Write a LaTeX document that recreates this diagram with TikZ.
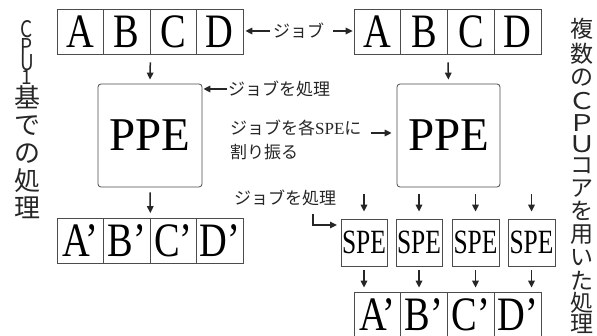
\documentclass[tikz,border=0pt]{standalone}
\usepackage{fontspec}
\usepackage{graphicx}
\setmainfont{Liberation Serif}
\newfontfamily\jp{Noto Sans CJK JP}
\usetikzlibrary{arrows.meta}
\newcommand\narrowtxt[2]{\scalebox{#1}[1]{#2}}
\newcommand\vcell[2]{\hbox to 28pt{\hss\vbox to #1{\vss\hbox{#2}\vss}\hss}}
\begin{document}
\begin{tikzpicture}[x=1pt,y=-1pt,
  box/.style={draw=black!70, line width=0.8pt, inner sep=0pt},
  cell/.style={box, minimum width=46.5pt, minimum height=45pt, font=\fontsize{48}{48}\selectfont},
  ppe/.style={box, rounded corners=3pt, minimum width=104pt, minimum height=103pt, font=\fontsize{47}{47}\selectfont},
  spe/.style={box, minimum width=46pt, minimum height=47pt, font=\fontsize{34}{34}\selectfont},
  arr/.style={-{Triangle[length=7pt,width=6.5pt]}, line width=1.5pt, black!85},
  lab/.style={font=\jp\fontsize{17}{17}\selectfont, inner sep=0pt, text=black!85},
  vtitle/.style={inner sep=0pt, text=black!85, anchor=north},
]
\useasboundingbox (0,0) rectangle (597,336);
\fill[white] (0,0) rectangle (597,336);

% left job cells
\node[cell] (la) at (80.25,31.5) {\narrowtxt{0.8}{A}};
\node[cell] (lb) at (126.75,31.5) {\narrowtxt{0.8}{B}};
\node[cell] (lc) at (173.25,31.5) {\narrowtxt{0.8}{C}};
\node[cell] (ld) at (219.75,31.5) {\narrowtxt{0.8}{D}};
% right job cells
\node[cell, minimum width=46.75pt] (ra) at (377.4,31.5) {\narrowtxt{0.8}{A}};
\node[cell, minimum width=46.75pt] (rb) at (424.1,31.5) {\narrowtxt{0.8}{B}};
\node[cell, minimum width=46.75pt] (rc) at (470.9,31.5) {\narrowtxt{0.8}{C}};
\node[cell, minimum width=46.75pt] (rd) at (517.6,31.5) {\narrowtxt{0.8}{D}};

% PPEs
\node[ppe] (ppeL) at (150,135.5) {PPE};
\node[ppe, minimum width=103pt] (ppeR) at (448.5,135.5) {PPE};

% left results
\node[cell] (la2) at (80.25,241) {\narrowtxt{0.8}{A’}};
\node[cell] (lb2) at (126.75,241) {\narrowtxt{0.8}{B’}};
\node[cell] (lc2) at (173.25,241) {\narrowtxt{0.8}{C’}};
\node[cell] (ld2) at (219.75,241) {\narrowtxt{0.8}{D’}};

% SPEs
\node[spe] (spe1) at (364,242.5) {\narrowtxt{0.75}{SPE}};
\node[spe] (spe2) at (419,242.5) {\narrowtxt{0.75}{SPE}};
\node[spe, minimum width=47pt] (spe3) at (475.5,242.5) {\narrowtxt{0.75}{SPE}};
\node[spe, minimum width=47pt] (spe4) at (531.5,242.5) {\narrowtxt{0.75}{SPE}};

% right results
\node[cell, minimum width=46.75pt, minimum height=46pt] (ra2) at (377.4,315) {\narrowtxt{0.8}{A’}};
\node[cell, minimum width=46.75pt, minimum height=46pt] (rb2) at (424.1,315) {\narrowtxt{0.8}{B’}};
\node[cell, minimum width=46.75pt, minimum height=46pt] (rc2) at (470.9,315) {\narrowtxt{0.8}{C’}};
\node[cell, minimum width=46.75pt, minimum height=46pt] (rd2) at (517.6,315) {\narrowtxt{0.8}{D’}};

% labels
\node[lab, anchor=west] (j1) at (273,31) {ジョブ};
\node[lab, anchor=west] (lab2) at (228,89) {ジョブを処理};
\node[lab, anchor=west] (lab3a) at (230,128) {ジョブを各{\rmfamily SPE}に};
\node[lab, anchor=west] (lab3b) at (230,152) {割り振る};
\node[lab, anchor=west] (lab4) at (234,198) {ジョブを処理};

% arrows
\draw[arr, shorten <=3pt, shorten >=2pt] (j1) -- (j1 -| ld.east);
\draw[arr, shorten <=9pt, shorten >=1pt] (j1) -- (j1 -| ra.west);
\draw[arr, shorten <=8pt, shorten >=4pt] (lb.south east) -- (ppeL.north);
\draw[arr, shorten <=8pt, shorten >=4pt] (rb.south east) -- (ppeR.north);
\draw[arr, shorten <=5pt, shorten >=5pt] (ppeL.south) -- (lb2.north east);
\draw[arr, shorten <=1pt, shorten >=1pt] (lab2) -- (lab2 -| ppeL.east);
\draw[arr, shorten <=9pt, shorten >=5pt] ([yshift=-5pt]lab3a.east) -- ([yshift=-5pt]lab3a.east -| ppeR.west);

\coordinate (hk1) at (313,214);
\coordinate (hk2) at (337,225);
\draw[arr] (hk1) |- (hk2);

\coordinate (st1) at (364,194);
\coordinate (st2) at (419,194);
\coordinate (st3) at (475.5,194);
\coordinate (st4) at (531.5,194);
\foreach \i in {1,...,4}{
  \draw[arr, shorten >=7pt] (st\i) -- (spe\i);
}
\draw[arr, shorten <=4pt, shorten >=4pt] (spe1) -- (spe1 |- ra2.north);
\draw[arr, shorten <=4pt, shorten >=4pt] (spe2) -- (spe2 |- rb2.north);
\draw[arr, shorten <=4pt, shorten >=4pt] (spe3) -- (spe3 |- rc2.north);
\draw[arr, shorten <=4pt, shorten >=4pt] (spe4) -- (spe4 |- rd2.north);

% vertical titles
\node[vtitle] (vleft) at (27,19) {\vbox{\offinterlineskip
  {\jp\fontsize{19}{19}\selectfont
   \vcell{19pt}{\scalebox{1}[1.2]{C}}\vcell{16pt}{\scalebox{1}[1.15]{P}}\vcell{16pt}{\scalebox{1}[1.15]{U}}\vcell{14pt}{\scalebox{1}[1.05]{1}}}%
  {\jp\fontsize{26}{26}\selectfont
   \vcell{27pt}{基}\vcell{29pt}{で}\vcell{27pt}{の}\vcell{27pt}{処}\vcell{27pt}{理}}}};
\node[vtitle] (vright) at (582,17) {\vbox{\offinterlineskip
  \jp\fontsize{23}{23}\selectfont
  \vcell{24pt}{複}\vcell{25pt}{数}\vcell{23pt}{の}%
  \vcell{24pt}{\scalebox{1.2}[1]{Ｃ}}\vcell{19pt}{\scalebox{1.2}[1]{Ｐ}}\vcell{23pt}{\scalebox{1.2}[1]{Ｕ}}%
  \vcell{22pt}{コ}\vcell{22pt}{ア}\vcell{23pt}{を}\vcell{24pt}{用}\vcell{23pt}{い}\vcell{23pt}{た}\vcell{22pt}{処}\vcell{20pt}{理}}};
\end{tikzpicture}
\end{document}
